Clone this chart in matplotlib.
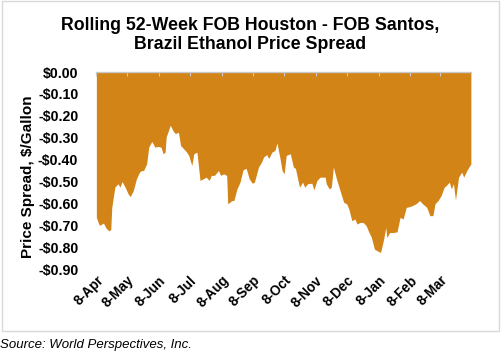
import datetime as dt

import matplotlib
matplotlib.use("Agg")
import matplotlib.pyplot as plt
import matplotlib.dates as mdates
from matplotlib.patches import Rectangle
from matplotlib.ticker import FuncFormatter

# days after 8-Apr and the spread ($/gallon)
day_offsets = [
    0, 2, 3, 7, 9, 12, 14, 15, 18, 21, 23, 25, 28, 31, 33, 36, 39, 42, 44, 46,
    49, 51, 54, 57, 60, 63, 65, 67, 68, 72, 75, 77, 80, 82, 85, 88, 90, 93, 95, 98,
    101, 104, 107, 110, 112, 115, 119, 121, 124, 127, 128, 132, 134, 137, 140, 143, 146, 149, 152, 154,
    158, 161, 163, 166, 168, 171, 174, 176, 179, 181, 183, 185, 189, 192, 194, 198, 201, 203, 206, 210,
    212, 215, 218, 223, 224, 227, 229, 231, 234, 237, 241, 244, 246, 249, 252, 254, 257, 260, 263, 265,
    268, 271, 274, 277, 280, 282, 283, 286, 289, 293, 296, 299, 302, 305, 308, 312, 315, 318, 322, 325,
    328, 330, 333, 336, 339, 341, 344, 346, 348, 350, 353, 356, 358, 361, 364, 365,
]
spread = [
    -0.664, -0.69, -0.70, -0.69, -0.71, -0.725, -0.72, -0.618, -0.526, -0.51,
    -0.526, -0.50, -0.526, -0.557, -0.569, -0.541, -0.488, -0.457, -0.45, -0.45,
    -0.419, -0.343, -0.317, -0.343, -0.34, -0.343, -0.373, -0.366, -0.297, -0.243,
    -0.271, -0.281, -0.275, -0.335, -0.35, -0.366, -0.381, -0.427, -0.373, -0.366,
    -0.495, -0.488, -0.48, -0.495, -0.472, -0.472, -0.45, -0.472, -0.465, -0.472,
    -0.602, -0.587, -0.587, -0.534, -0.503, -0.446, -0.44, -0.488, -0.508, -0.503,
    -0.434, -0.411, -0.388, -0.377, -0.395, -0.366, -0.358, -0.324, -0.395, -0.45,
    -0.465, -0.381, -0.373, -0.434, -0.44, -0.526, -0.503, -0.526, -0.51, -0.508,
    -0.538, -0.495, -0.48, -0.48, -0.51, -0.534, -0.526, -0.434, -0.488, -0.534,
    -0.595, -0.602, -0.625, -0.679, -0.671, -0.694, -0.687, -0.687, -0.702, -0.725,
    -0.755, -0.809, -0.817, -0.824, -0.763, -0.71, -0.755, -0.733, -0.733, -0.73,
    -0.664, -0.671, -0.618, -0.615, -0.61, -0.60, -0.587, -0.602, -0.618, -0.656,
    -0.656, -0.602, -0.587, -0.564, -0.526, -0.518, -0.503, -0.534, -0.51, -0.584,
    -0.48, -0.457, -0.48, -0.45, -0.427, -0.42,
]

start = dt.date(2019, 4, 8)
dates = [start + dt.timedelta(days=d) for d in day_offsets]
tick_dates = [dt.date(2019 + (4 + i - 1) // 12, (4 + i - 1) % 12 + 1, 8) for i in range(12)]
y_ticks = [0.0, -0.1, -0.2, -0.3, -0.4, -0.5, -0.6, -0.7, -0.8, -0.9]

plt.rcParams["font.family"] = ["Liberation Sans", "DejaVu Sans"]

fig = plt.figure(figsize=(5.02, 3.55), dpi=100)
ax = fig.add_axes([0.192, 0.242, 0.746, 0.555])

ax.fill_between(dates, spread, 0, color="#D38417", linewidth=0)

ax.set_xlim(start, start + dt.timedelta(days=365))
ax.set_ylim(-0.9, 0)
ax.set_yticks(y_ticks)
ax.yaxis.set_major_formatter(FuncFormatter(lambda v, p: f"-${abs(v):.2f}" if v < -1e-9 else f"${abs(v):.2f}"))
ax.set_xticks(tick_dates)
ax.xaxis.set_major_formatter(mdates.DateFormatter("%-d-%b"))

for side in ["left", "right", "bottom"]:
    ax.spines[side].set_visible(False)
ax.spines["top"].set_color("#C8C8C8")
ax.spines["top"].set_linewidth(1)

ax.tick_params(axis="y", length=0, labelsize=10.2, pad=13)
ax.tick_params(axis="x", bottom=False, top=True, direction="in", length=3,
               color="#C8C8C8", labelsize=9.8, pad=3)
for lab in ax.get_yticklabels():
    lab.set_fontweight("bold")
for lab in ax.get_xticklabels():
    lab.set_fontweight("bold")
    lab.set_rotation(45)
    lab.set_ha("right")
    lab.set_rotation_mode("anchor")

ax.set_ylabel("Price Spread, $/Gallon", fontsize=11, fontweight="bold")
ax.yaxis.set_label_coords(-0.165, 0.47)

fig.text(0.498, 0.952, "Rolling 52-Week FOB Houston - FOB Santos,\nBrazil Ethanol Price Spread",
         ha="center", va="top", fontsize=12.8, fontweight="bold", linespacing=1.15)

fig.patches.append(Rectangle((0.004, 0.068), 0.99, 0.928, transform=fig.transFigure,
                             fill=False, edgecolor="#D9D9D9", linewidth=1))

fig.text(0.0, 0.028, "Source: World Perspectives, Inc.", fontsize=9.5, style="italic",
         ha="left", va="center")

fig.savefig("out.png", dpi=100)
